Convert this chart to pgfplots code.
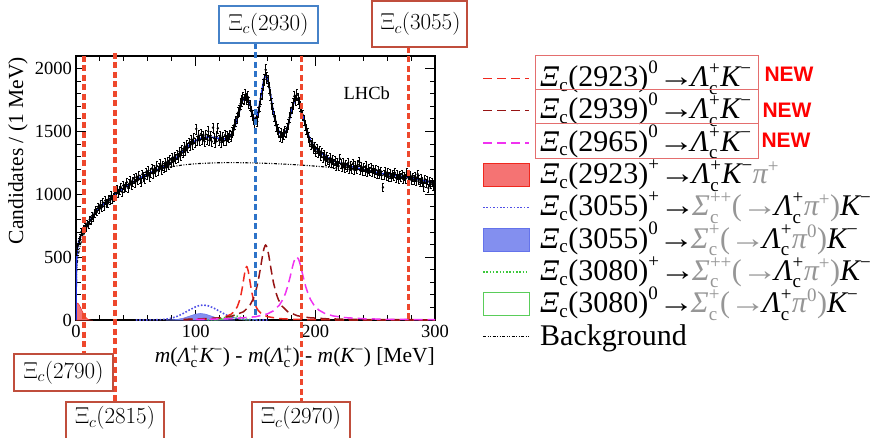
\documentclass[border=0pt]{standalone}
\usepackage{fix-cm}
\usepackage{amsmath}
\usepackage{graphicx}
\usepackage[no-math]{fontspec}
\setmainfont{Liberation Serif}
\newfontfamily\sansfont{Liberation Sans}
\usepackage{pgfplots}
\usepackage{pgfplotstable}
\pgfplotsset{compat=1.18}
\DeclareMathSizes{30}{30}{19}{15}

\definecolor{vred}{RGB}{238,72,45}
\definecolor{vblue}{RGB}{45,115,200}
\definecolor{boxred}{RGB}{192,78,60}
\definecolor{boxblue}{RGB}{70,130,200}
\definecolor{legred}{RGB}{228,110,110}
\definecolor{fitblue}{RGB}{30,50,235}
\definecolor{cred}{RGB}{240,40,30}
\definecolor{cdred}{RGB}{150,20,20}
\definecolor{cmag}{RGB}{240,50,240}
\definecolor{cbdot}{RGB}{80,80,230}
\definecolor{cbfill}{RGB}{100,115,235}
\definecolor{crfill}{RGB}{245,115,115}
\definecolor{cgdot}{RGB}{60,200,60}
\definecolor{cgopen}{RGB}{90,205,90}
\definecolor{lgray}{RGB}{150,150,150}

\tikzset{
  sred/.style={cred, line width=1.5pt, dash pattern=on 9pt off 5pt},
  sdred/.style={cdred, line width=1.5pt, dash pattern=on 9pt off 5pt},
  smag/.style={cmag, line width=1.5pt, dash pattern=on 9pt off 5pt},
  sbdot/.style={cbdot, line width=1.6pt, dash pattern=on 1.6pt off 1.8pt},
  sgdot/.style={cgdot, line width=1.4pt, dash pattern=on 1.5pt off 1.8pt},
  sbkg/.style={black, line width=1.1pt, dash pattern=on 3pt off 1.5pt on 1pt off 1.5pt on 1pt off 1.5pt},
  vline/.style={line width=3.2pt, dash pattern=on 6pt off 3.5pt},
}

\pgfplotstableread[row sep=\\]{
x y \\
0.5 540 \\ 1.5 590 \\ 2.5 625 \\ 3.5 660 \\ 4.5 700 \\ 5.5 690 \\ 6.5 725 \\ 7.5 740 \\ 8.5 735 \\ 9.5 770 \\
10.5 760 \\ 11.5 800 \\ 12.5 790 \\ 13.5 830 \\ 14.5 815 \\ 15.5 850 \\ 16.5 875 \\ 17.5 860 \\ 18.5 900 \\ 19.5 880 \\
20.5 920 \\ 21.5 895 \\ 22.5 935 \\ 23.5 905 \\ 24.5 950 \\ 25.5 930 \\ 26.5 925 \\ 27.5 965 \\ 28.5 950 \\ 29.5 990 \\
30.5 960 \\ 31.5 975 \\ 32.5 1010 \\ 33.5 985 \\ 34.5 1040 \\ 35.5 1005 \\ 36.5 1030 \\ 37.5 1055 \\ 38.5 1020 \\ 39.5 1070 \\
40.5 1045 \\ 41.5 1060 \\ 42.5 1095 \\ 43.5 1050 \\ 44.5 1085 \\ 45.5 1110 \\ 46.5 1070 \\ 47.5 1100 \\ 48.5 1125 \\ 49.5 1090 \\
50.5 1135 \\ 51.5 1110 \\ 52.5 1150 \\ 53.5 1120 \\ 54.5 1095 \\ 55.5 1160 \\ 56.5 1140 \\ 57.5 1125 \\ 58.5 1175 \\ 59.5 1150 \\
60.5 1190 \\ 61.5 1140 \\ 62.5 1170 \\ 63.5 1205 \\ 64.5 1165 \\ 65.5 1200 \\ 66.5 1180 \\ 67.5 1225 \\ 68.5 1190 \\ 69.5 1215 \\
70.5 1240 \\ 71.5 1195 \\ 72.5 1230 \\ 73.5 1210 \\ 74.5 1250 \\ 75.5 1220 \\ 76.5 1260 \\ 77.5 1235 \\ 78.5 1275 \\ 79.5 1250 \\
80.5 1290 \\ 81.5 1260 \\ 82.5 1300 \\ 83.5 1280 \\ 84.5 1315 \\ 85.5 1290 \\ 86.5 1340 \\ 87.5 1310 \\ 88.5 1350 \\ 89.5 1330 \\
90.5 1375 \\ 91.5 1345 \\ 92.5 1390 \\ 93.5 1370 \\ 94.5 1410 \\ 95.5 1385 \\ 96.5 1435 \\ 97.5 1400 \\ 98.5 1445 \\ 99.5 1410 \\
100.5 1520 \\ 101.5 1425 \\ 102.5 1470 \\ 103.5 1430 \\ 104.5 1480 \\ 105.5 1440 \\ 106.5 1465 \\ 107.5 1420 \\ 108.5 1475 \\ 109.5 1440 \\
110.5 1500 \\ 111.5 1430 \\ 112.5 1465 \\ 113.5 1420 \\ 114.5 1530 \\ 115.5 1445 \\ 116.5 1410 \\ 117.5 1460 \\ 118.5 1525 \\ 119.5 1430 \\
120.5 1465 \\ 121.5 1415 \\ 122.5 1455 \\ 123.5 1425 \\ 124.5 1470 \\ 125.5 1430 \\ 126.5 1460 \\ 127.5 1450 \\ 128.5 1475 \\ 129.5 1460 \\
130.5 1495 \\ 131.5 1510 \\ 132.5 1555 \\ 133.5 1580 \\ 134.5 1605 \\ 135.5 1650 \\ 136.5 1665 \\ 137.5 1720 \\ 138.5 1745 \\ 139.5 1770 \\
140.5 1755 \\ 141.5 1790 \\ 142.5 1760 \\ 143.5 1775 \\ 144.5 1730 \\ 145.5 1710 \\ 146.5 1660 \\ 147.5 1630 \\ 148.5 1600 \\ 149.5 1565 \\
150.5 1610 \\ 151.5 1580 \\ 152.5 1650 \\ 153.5 1700 \\ 154.5 1760 \\ 155.5 1800 \\ 156.5 1870 \\ 157.5 1915 \\ 158.5 1990 \\ 159.5 1930 \\
160.5 1900 \\ 161.5 1850 \\ 162.5 1790 \\ 163.5 1720 \\ 164.5 1680 \\ 165.5 1620 \\ 166.5 1590 \\ 167.5 1545 \\ 168.5 1520 \\ 169.5 1495 \\
170.5 1460 \\ 171.5 1490 \\ 172.5 1455 \\ 173.5 1480 \\ 174.5 1500 \\ 175.5 1490 \\ 176.5 1530 \\ 177.5 1560 \\ 178.5 1610 \\ 179.5 1650 \\
180.5 1690 \\ 181.5 1720 \\ 182.5 1780 \\ 183.5 1750 \\ 184.5 1790 \\ 185.5 1760 \\ 186.5 1730 \\ 187.5 1700 \\ 188.5 1650 \\ 189.5 1630 \\
190.5 1590 \\ 191.5 1550 \\ 192.5 1520 \\ 193.5 1490 \\ 194.5 1455 \\ 195.5 1420 \\ 196.5 1395 \\ 197.5 1410 \\ 198.5 1365 \\ 199.5 1380 \\
200.5 1340 \\ 201.5 1365 \\ 202.5 1330 \\ 203.5 1345 \\ 204.5 1310 \\ 205.5 1330 \\ 206.5 1295 \\ 207.5 1315 \\ 208.5 1270 \\ 209.5 1300 \\
210.5 1275 \\ 211.5 1255 \\ 212.5 1290 \\ 213.5 1250 \\ 214.5 1275 \\ 215.5 1240 \\ 216.5 1265 \\ 217.5 1230 \\ 218.5 1255 \\ 219.5 1225 \\
220.5 1285 \\ 221.5 1240 \\ 222.5 1215 \\ 223.5 1250 \\ 224.5 1210 \\ 225.5 1235 \\ 226.5 1215 \\ 227.5 1250 \\ 228.5 1200 \\ 229.5 1230 \\
230.5 1205 \\ 231.5 1245 \\ 232.5 1195 \\ 233.5 1225 \\ 234.5 1200 \\ 235.5 1235 \\ 236.5 1260 \\ 237.5 1195 \\ 238.5 1220 \\ 239.5 1185 \\
240.5 1215 \\ 241.5 1190 \\ 242.5 1225 \\ 243.5 1175 \\ 244.5 1205 \\ 245.5 1185 \\ 246.5 1210 \\ 247.5 1175 \\ 248.5 1200 \\ 249.5 1170 \\
250.5 1195 \\ 251.5 1160 \\ 252.5 1190 \\ 253.5 1165 \\ 254.5 1185 \\ 255.5 1150 \\ 256.5 1055 \\ 257.5 1155 \\ 258.5 1180 \\ 259.5 1145 \\
260.5 1170 \\ 261.5 1140 \\ 262.5 1165 \\ 263.5 1135 \\ 264.5 1160 \\ 265.5 1145 \\ 266.5 1170 \\ 267.5 1130 \\ 268.5 1155 \\ 269.5 1125 \\
270.5 1150 \\ 271.5 1135 \\ 272.5 1160 \\ 273.5 1120 \\ 274.5 1145 \\ 275.5 1125 \\ 276.5 1175 \\ 277.5 1140 \\ 278.5 1120 \\ 279.5 1150 \\
280.5 1110 \\ 281.5 1135 \\ 282.5 1115 \\ 283.5 1140 \\ 284.5 1105 \\ 285.5 1160 \\ 286.5 1115 \\ 287.5 1095 \\ 288.5 1125 \\ 289.5 1100 \\
290.5 1060 \\ 291.5 1120 \\ 292.5 1090 \\ 293.5 1110 \\ 294.5 1050 \\ 295.5 1100 \\ 296.5 1080 \\ 297.5 1095 \\ 298.5 1065 \\ 299.5 1080 \\
}\datatable

\newcommand{\legfont}{\fontsize{30}{32}\selectfont}
\newcommand{\Xic}{\textit{Ξ}_{\text{c}}}
\newcommand{\Lcp}{\textit{Λ}_{\text{c}}^{\text{+}}}
\newcommand{\Km}{\textit{K}^{\text{−}}}
\newcommand{\arr}{\text{\scalebox{1.2}[1]{→}}\mkern-2mu}

\begin{document}
\begin{tikzpicture}[x=1pt,y=1pt]
\useasboundingbox (0,0) rectangle (878,437);
\begin{scope}
\clip (0,0) rectangle (878,437);
\begin{axis}[
  at={(76pt,117pt)}, anchor=south west,
  width=359pt, height=264pt, scale only axis,
  xmin=0, xmax=300, ymin=0, ymax=2100,
  xtick={0,100,200,300}, ytick={0,500,1000,1500,2000},
  minor x tick num=4, minor y tick num=4,
  major tick length=10pt, minor tick length=5pt,
  tick style={black, line width=1pt},
  axis line style={line width=1.2pt},
  /pgf/number format/assume math mode=true,
  /pgf/number format/1000 sep={},
  scaled ticks=false,
  tick label style={font=\fontsize{18.5}{20}\selectfont},
  xticklabel style={inner sep=0pt, yshift=-5pt},
  yticklabel style={inner sep=0pt, xshift=-4pt},
  label style={font=\fontsize{21.5}{24}\selectfont, inner sep=0pt},
  xlabel={\textit{m}($\Lcp\Km$) - \textit{m}($\Lcp$) - \textit{m}($\Km$) [MeV]},
  xlabel style={at={(axis description cs:1,-0.14)}, anchor=east},
  ylabel={Candidates / (1 MeV)},
  ylabel style={at={(axis description cs:-0.1616,0.996)}, anchor=east},
]
% background
\addplot[sbkg] coordinates {
(0,0)(0.5,380)(1,450)(2,520)(3,570)(4,610)(5,640)(7,690)(10,760)(15,840)(20,895)(25,935)(30,975)(35,1010)(40,1045)(45,1080)(50,1110)(55,1135)(60,1160)(65,1180)(70,1197)(75,1210)(80,1220)(90,1234)(100,1243)(110,1248)(120,1251)(130,1252)(140,1251)(150,1249)(160,1246)(170,1242)(180,1237)(190,1231)(200,1224)(210,1216)(220,1207)(230,1197)(240,1186)(250,1173)(260,1159)(270,1143)(280,1126)(290,1108)(300,1090)};
% Xi_c(2923)+ filled
\addplot[draw=cred, fill=crfill, line width=0.5pt] coordinates {
(0,0)(0.5,120)(1,135)(2,130)(3,115)(4,95)(5,75)(6,55)(7,38)(8,24)(9,13)(10,6)(11,2)(12,0)} \closedcycle;
% Xi_c(3055)0 filled
\addplot[draw=cbfill, fill=cbfill!80, line width=0.5pt] coordinates {
(75,0)(80,1.5)(85,5.6)(90,15.5)(95,31.5)(100,47)(104,52)(108,47)(113,31.5)(118,15.5)(123,5.6)(128,1.5)(133,0)} \closedcycle;
% Xi_c(3080)0 open
\addplot[cgopen, line width=1pt] coordinates {
(115,0)(118,1.1)(122,5.6)(125,12.1)(128,18.5)(130,20)(132,18.5)(135,12.1)(138,5.6)(142,1.1)(145,0)};
% Xi_c(3080)+ dotted
\addplot[sgdot] coordinates {
(110,0)(115,1.1)(120,7.1)(123,15.6)(126,26.9)(129,36)(131,38)(133,36)(136,26.9)(139,15.6)(142,7.1)(147,1.1)(155,0)};
% Xi_c(3055)+ dotted
\addplot[sbdot] coordinates {
(50,0)(60,0.2)(70,2.4)(75,6.4)(80,15.1)(85,30.7)(90,53.7)(95,81)(100,105)(103,115)(106.4,119)(110,114.5)(115,95.6)(120,68.9)(125,42.7)(130,22.9)(135,10.6)(140,4.2)(150,0.4)(160,0)};
% Xi_c(2923)0
\addplot[sred] coordinates {
(90,3.4)(100,4.7)(110,7.9)(120,16.2)(125,26)(130,48)(133,76)(135,110)(137,166)(138,207)(139,258)(140,318)(141,376)(142,417)(142.6,424)(143,421)(144,387)(145,330)(146,270)(147,217)(148,174)(150,114)(152,79)(155,49)(160,26.6)(170,11.1)(180,6.1)(200,2.6)(250,0.7)(300,0.35)};
% Xi_c(2939)0
\addplot[sdred] coordinates {
(90,5.3)(100,7.3)(120,16.5)(130,29.5)(140,65.6)(145,112)(148,165)(150,220)(152,298)(154,403)(155,462)(156,519)(157,566)(158,592)(158.5,596)(159,592)(160,566)(161,519)(162,462)(163,403)(165,298)(167,220)(169,165)(172,112)(177,65.6)(185,33.8)(195,18.3)(210,9.3)(240,3.8)(300,1.3)};
% Xi_c(2965)0
\addplot[smag] coordinates {
(100,4.5)(130,10.6)(150,25.8)(160,48.8)(165,73)(170,119)(173,166)(175,211)(177,271)(179,345)(181,426)(182,461)(183,488)(184.4,503)(186,484)(187,455)(188,418)(190,338)(192,264)(194,206)(196,162)(199,116)(203,78.5)(208,51.8)(215,32.2)(225,18.8)(240,10.2)(260,5.6)(300,2.4)};
% total fit
\addplot[fitblue, line width=1.5pt] coordinates {
(0,0)(0.3,380)(0.6,480)(1,550)(2,610)(3,645)(4,670)(5,690)(6,705)(7,720)(8,735)(10,765)(12,795)(15,838)(20,895)(25,940)(30,980)(35,1015)(40,1050)(45,1082)(50,1112)(55,1138)(60,1162)(65,1185)(70,1205)(75,1225)(80,1255)(85,1300)(90,1350)(95,1395)(100,1428)(105,1448)(110,1455)(115,1452)(120,1444)(124,1440)(127,1450)(130,1478)(133,1545)(135,1610)(137,1680)(139,1740)(141,1770)(142.5,1775)(144,1752)(146,1695)(148,1625)(149.5,1592)(151,1610)(153,1695)(155,1805)(157,1915)(158.5,1948)(160,1920)(162,1825)(164,1705)(166,1605)(168,1535)(170,1492)(172,1474)(174,1478)(176,1512)(178,1580)(180,1660)(182,1728)(184,1760)(186,1745)(188,1680)(190,1610)(192,1540)(194,1480)(196,1428)(199,1380)(204,1335)(210,1292)(218,1255)(226,1232)(240,1196)(254,1168)(265,1152)(276,1138)(288,1115)(300,1088)};
% data
\addplot[black, only marks, mark=*, mark size=1pt,
  error bars/.cd, y dir=both, y explicit, error bar style={line width=0.9pt}]
  table[x=x, y=y, y error expr=sqrt(\thisrow{y})] {\datatable};
\node[font=\fontsize{18.5}{20}\selectfont] at (rel axis cs:0.81,0.86) {LHCb};
\end{axis}

% vertical lines
\draw[vline, vred] (84,381) -- (84,83);
\draw[vline, vred] (115,384) -- (115,35);
\draw[vline, vblue] (255.5,394) -- (255.5,117);
\draw[vline, vred] (301.6,381) -- (301.6,35);
\draw[vline, vred] (408.7,390) -- (408.7,117);

% state boxes
\draw[boxblue, line width=1.4pt, fill=white] (219,394) rectangle (318,431);
\node[font=\fontsize{23}{26}\selectfont] at (268.5,412.5) {$\Xi_c(2930)$};
\draw[boxred, line width=1.4pt, fill=white] (372,390) rectangle (467,436);
\node[font=\fontsize{23}{26}\selectfont] at (420.5,413) {$\Xi_c(3055)$};
\draw[boxred, line width=1.4pt, fill=white] (14,46) rectangle (113,83);
\node[font=\fontsize{23}{26}\selectfont] at (63.5,64.5) {$\Xi_c(2790)$};
\draw[boxred, line width=1.4pt, fill=white] (66,-5) rectangle (164,35);
\node[font=\fontsize{23}{26}\selectfont] at (115,19) {$\Xi_c(2815)$};
\draw[boxred, line width=1.4pt, fill=white] (252,-5) rectangle (350,35);
\node[font=\fontsize{23}{26}\selectfont] at (301,19) {$\Xi_c(2970)$};

% legend samples
\draw[sred] (483,358.7) -- (529,358.7);
\draw[sdred] (483,326.4) -- (529,326.4);
\draw[smag] (483,294.1) -- (529,294.1);
\draw[cred, fill=crfill, line width=1pt] (483,250.3) rectangle (529,273.3);
\draw[sbdot] (483,229.5) -- (529,229.5);
\draw[cbfill, fill=cbfill!80, line width=1pt] (483,185.7) rectangle (529,208.7);
\draw[sgdot] (483,164.9) -- (529,164.9);
\draw[cgopen, line width=1pt] (483,121.1) rectangle (529,144.1);
\draw[sbkg] (483,100.3) -- (529,100.3);

\begin{scope}[every node/.style={anchor=base west, inner sep=0pt, font=\legfont}]
\node at (540,350.3) {$\Xic\text{(2923)}^{\text{0}}\arr\Lcp\Km$};
\node at (540,318.0) {$\Xic\text{(2939)}^{\text{0}}\arr\Lcp\Km$};
\node at (540,285.7) {$\Xic\text{(2965)}^{\text{0}}\arr\Lcp\Km$};
\node at (540,253.4) {$\Xic\text{(2923)}^{\text{+}}\arr\Lcp\Km{\color{lgray}\textit{π}^{\text{+}}}$};
\node at (540,221.1) {$\Xic\text{(3055)}^{\text{+}}\arr{\color{lgray}\textit{Σ}_{\text{c}}^{\text{++}}\text{(}\arr}\Lcp{\color{lgray}\textit{π}^{\text{+}}\text{)}}\Km$};
\node at (540,188.8) {$\Xic\text{(3055)}^{\text{0}}\arr{\color{lgray}\textit{Σ}_{\text{c}}^{\text{+}}\text{(}\arr}\Lcp{\color{lgray}\textit{π}^{\text{0}}\text{)}}\Km$};
\node at (540,156.5) {$\Xic\text{(3080)}^{\text{+}}\arr{\color{lgray}\textit{Σ}_{\text{c}}^{\text{++}}\text{(}\arr}\Lcp{\color{lgray}\textit{π}^{\text{+}}\text{)}}\Km$};
\node at (540,124.2) {$\Xic\text{(3080)}^{\text{0}}\arr{\color{lgray}\textit{Σ}_{\text{c}}^{\text{+}}\text{(}\arr}\Lcp{\color{lgray}\textit{π}^{\text{0}}\text{)}}\Km$};
\node at (540,91.9) {Background};
\end{scope}
\draw[legred, line width=0.8pt] (535,348) rectangle (758,382);
\draw[legred, line width=0.8pt] (535,314) rectangle (758,348);
\draw[legred, line width=0.8pt] (535,279) rectangle (758,314);
\node[font=\sansfont\bfseries\fontsize{21}{24}\selectfont, text=red, inner sep=0pt] at (789,363) {NEW};
\node[font=\sansfont\bfseries\fontsize{21}{24}\selectfont, text=red, inner sep=0pt] at (787,327) {NEW};
\node[font=\sansfont\bfseries\fontsize{21}{24}\selectfont, text=red, inner sep=0pt] at (786,297) {NEW};
\end{scope}
\end{tikzpicture}
\end{document}
